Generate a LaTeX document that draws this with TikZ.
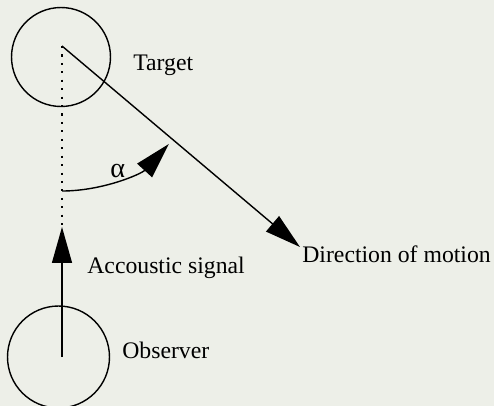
\documentclass[tikz,border=0pt]{standalone}
\usepackage{fontspec}
\setmainfont{Liberation Serif}
\usetikzlibrary{positioning,arrows.meta}
\definecolor{PaperGray}{RGB}{237,239,232}
\tikzset{
  body/.style={circle,draw=black,line width=0.8pt,minimum size=1.98cm,inner sep=0pt},
  lbl/.style={font=\fontsize{13.5}{16}\selectfont,inner sep=0pt,anchor=base west},
  arr/.style={line width=0.8pt,-{Triangle[length=0.72cm,width=0.4cm]}},
  dots/.style={line width=1.2pt,dash pattern=on 1.2pt off 3.6pt},
}
\begin{document}
\begin{tikzpicture}[x=0.02cm,y=0.02cm]
  \fill[PaperGray] (0,0) rectangle (494,-406);
  \useasboundingbox (0,0) rectangle (494,-406);
  \node[body] (target) at (61,-57) {};
  \node[body,minimum size=2.04cm] (observer) at (58.5,-357) {};
  \coordinate (origin) at (62,-46);
  \coordinate (sigtip) at (62,-227);
  \coordinate (obs) at (62,-357);
  \coordinate (dirtip) at (300,-247);
  \node[lbl] (targetlbl) at (133,-70) {Target};
  \node[lbl] (siglbl) at (87,-273) {Accoustic signal};
  \node[lbl] (obslbl) at (122,-358) {Observer};
  \node[lbl] (dirlbl) at (302,-262) {Direction of motion};
  \node[lbl,font=\fontsize{16}{19}\selectfont] (alpha) at (110,-177) {α};
  % signal and motion
  \draw[dots] (origin) -- (sigtip);
  \draw[arr] (obs) -- (sigtip);
  \draw[arr] (origin) -- (dirtip);
  % angle
  \draw[arr] (origin) ++(-90:145) arc[start angle=-90,end angle=-42.5,radius=145];
\end{tikzpicture}
\end{document}
